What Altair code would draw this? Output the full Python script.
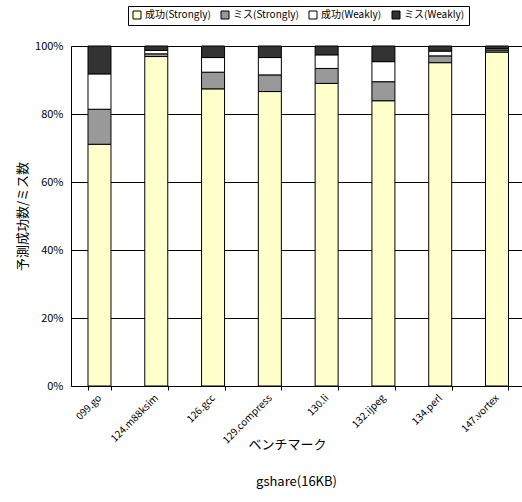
import altair as alt
import pandas as pd

benchmarks = ["099.go", "124.m88ksim", "126.gcc", "129.compress",
              "130.li", "132.ijpeg", "134.perl", "147.vortex"]
series = ["成功(Strongly)", "ミス(Strongly)", "成功(Weakly)", "ミス(Weakly)"]
success_strong = [71.1, 96.9, 87.4, 86.6, 89.0, 83.9, 95.1, 98.2]
miss_strong = [10.3, 0.8, 4.9, 4.9, 4.4, 5.6, 2.0, 0.6]
success_weak = [10.4, 1.0, 4.3, 5.1, 4.0, 5.9, 1.4, 0.4]
miss_weak = [8.2, 1.3, 3.4, 3.4, 2.6, 4.6, 1.5, 0.8]
colors = ["#FFFFCC", "#999999", "#FFFFFF", "#333333"]

rows = []
for si, (name, vals) in enumerate(zip(series, [success_strong, miss_strong, success_weak, miss_weak])):
    for b, v in zip(benchmarks, vals):
        rows.append({"benchmark": b, "series": name, "value": v, "idx": si})
df = pd.DataFrame(rows)

FONT = "Noto Sans CJK JP"

chart = alt.Chart(df).mark_bar(stroke="#000000", strokeWidth=1).encode(
    x=alt.X("benchmark:N", sort=benchmarks,
            scale=alt.Scale(paddingInner=0.595, paddingOuter=0.2685, align=0.557),
            axis=alt.Axis(title="ベンチマーク", labelAngle=-45, labelAlign="right",
                          labelBaseline="middle", labelFontSize=10, labelPadding=6,
                          labelFont=FONT, titleFont=FONT, titleFontSize=13,
                          titleFontWeight="normal", titleY=58, titleBaseline="middle",
                          titleX=216,
                          tickBand="extent", tickSize=4, tickColor="#000000", ticks=True,
                          domainColor="#000000", labelColor="#000000",
                          titleColor="#000000", grid=False)),
    y=alt.Y("value:Q", stack="normalize",
            scale=alt.Scale(domain=[0, 1]),
            axis=alt.Axis(title="予測成功数/ミス数", format=".0%", values=[0, 0.2, 0.4, 0.6, 0.8, 1.0],
                          labelFont=FONT, labelFontSize=11, labelPadding=8,
                          titleFont=FONT, titleFontSize=13, titleFontWeight="normal",
                          titleX=-49, titleY=170, titleAngle=270, titleAlign="center",
                          titleBaseline="middle",
                          ticks=False, grid=True,
                          gridColor="#000000", gridOpacity=1, gridWidth=1,
                          domainColor="#000000", labelColor="#000000",
                          titleColor="#000000")),
    color=alt.Color("series:N", sort=series,
                    scale=alt.Scale(domain=series, range=colors),
                    legend=alt.Legend(title=None, orient="none", direction="horizontal",
                                      legendX=57, legendY=-40,
                                      symbolType="square", symbolSize=64,
                                      symbolStrokeColor="#000000", symbolStrokeWidth=1,
                                      labelFont=FONT, labelFontSize=10, labelColor="#000000",
                                      labelOffset=3,
                                      columnPadding=8, symbolOffset=0,
                                      padding=4, strokeColor="#000000",
                                      fillColor="#FFFFFF")),
    order=alt.Order("idx:Q", sort="ascending"),
).properties(
    width=451, height=340,
    title=alt.TitleParams("gshare(16KB)", orient="bottom", font=FONT, fontSize=13,
                          fontWeight="normal", color="#000000", offset=25),
    autosize=alt.AutoSizeParams(type="none"),
    padding={"left": 71, "top": 46, "right": 0, "bottom": 116},
).configure_view(stroke=None).configure(background="#FFFFFF")

chart.save("out.html", embed_options={"renderer": "svg", "actions": False})
